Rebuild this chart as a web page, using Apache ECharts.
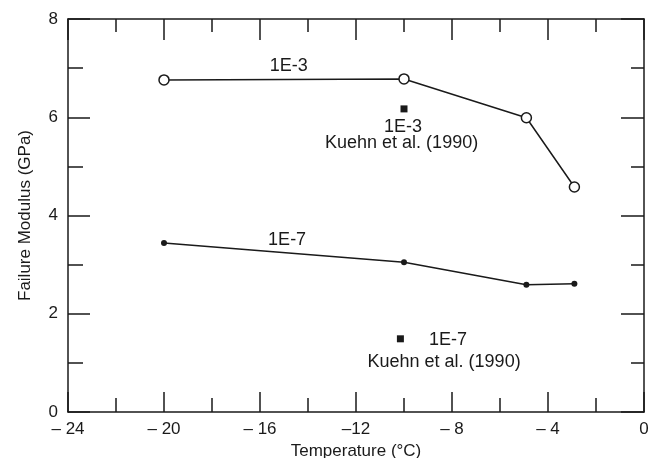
<!DOCTYPE html>
<html>
<head>
<meta charset="utf-8">
<script src="https://cdn.jsdelivr.net/npm/echarts@6/dist/echarts.min.js"></script>
<style>html,body{margin:0;padding:0;background:#fff;}#c{width:659px;height:458px;}</style>
</head>
<body>
<div id="c"></div>
<script>
// Data
const xTickLabels = ['\u2013 24', '\u2013 20', '\u2013 16', '\u201312', '\u2013 8', '\u2013 4', '0'];
const yTickLabels = ['0', '2', '4', '6', '8'];
const rate1E3 = [[-20, 6.76], [-10, 6.78], [-4.9, 5.99], [-2.9, 4.58]];
const rate1E7 = [[-20, 3.44], [-10, 3.05], [-4.9, 2.59], [-2.9, 2.61]];
const kuehn = [[-10.0, 6.17], [-10.15, 1.49]];
const annotations = [
  { text: '1E-3', x: -14.8, y: 7.05 },
  { text: '1E-7', x: -14.87, y: 3.50 },
  { text: '1E-3', x: -10.04, y: 5.80 },
  { text: 'Kuehn et al. (1990)', x: -10.1, y: 5.48 },
  { text: '1E-7', x: -8.17, y: 1.47 },
  { text: 'Kuehn et al. (1990)', x: -8.33, y: 1.02 }
];

const ink = '#1a1a1a';
const font = '"Liberation Sans", Arial, Helvetica, sans-serif';
const lineSt = { color: ink, width: 1.5 };

function xAxisDef(pos, showLabel, majorLen, minorLen) {
  return {
    type: 'value', position: pos, min: -24, max: 0, interval: 4,
    axisLine: { show: true, onZero: false, lineStyle: lineSt },
    axisTick: { show: true, inside: true, length: majorLen, lineStyle: lineSt },
    minorTick: { show: true, splitNumber: 2, length: minorLen, lineStyle: lineSt },
    splitLine: { show: false }, minorSplitLine: { show: false },
    axisLabel: {
      show: showLabel, margin: 9, fontSize: 17, color: ink, fontFamily: font,
      formatter: v => xTickLabels[Math.round((v + 24) / 4)]
    }
  };
}
function yAxisDef(pos, showLabel, majorLen, minorLen) {
  return {
    type: 'value', position: pos, min: 0, max: 8, interval: 2,
    axisLine: { show: true, onZero: false, lineStyle: lineSt },
    axisTick: { show: true, inside: true, length: majorLen, lineStyle: lineSt },
    minorTick: { show: true, splitNumber: 2, length: minorLen, lineStyle: lineSt },
    splitLine: { show: false }, minorSplitLine: { show: false },
    axisLabel: {
      show: showLabel, margin: 10, fontSize: 17, color: ink, fontFamily: font,
      formatter: v => yTickLabels[Math.round(v / 2)]
    }
  };
}

const xb = xAxisDef('bottom', true, 20, 14);
xb.name = 'Temperature (\u00B0C)';
xb.nameLocation = 'middle';
xb.nameGap = 27;
xb.nameTextStyle = { fontSize: 17, color: ink, fontFamily: font };
const yl = yAxisDef('left', true, 22, 15);
yl.name = 'Failure Modulus (GPa)';
yl.nameLocation = 'middle';
yl.nameGap = 34;
yl.nameTextStyle = { fontSize: 17, color: ink, fontFamily: font };

const chart = echarts.init(document.getElementById('c'));
chart.setOption({
  animation: false,
  backgroundColor: '#fff',
  grid: { left: 68, right: 15, top: 19, bottom: 46, containLabel: false, outerBoundsMode: 'none' },
  xAxis: [xb, xAxisDef('top', false, 21, 13)],
  yAxis: [yl, yAxisDef('right', false, 23, 13)],
  series: [
    {
      name: '1E-3', type: 'line', data: rate1E3,
      symbol: 'circle', symbolSize: 10, showAllSymbol: true,
      lineStyle: lineSt,
      itemStyle: { color: '#fff', borderColor: ink, borderWidth: 1.5, opacity: 1 },
      z: 3
    },
    {
      name: '1E-7', type: 'line', data: rate1E7,
      symbol: 'circle', symbolSize: 6, showAllSymbol: true,
      lineStyle: lineSt,
      itemStyle: { color: ink, opacity: 1 },
      z: 3
    },
    {
      name: 'Kuehn et al. (1990)', type: 'scatter', data: kuehn,
      symbol: 'rect', symbolSize: 7,
      itemStyle: { color: ink, opacity: 1 },
      z: 4
    },
    {
      name: 'annotations', type: 'scatter', symbolSize: 1, silent: true,
      data: annotations.map(a => ({ name: a.text, value: [a.x, a.y] })),
      itemStyle: { color: 'rgba(0,0,0,0)', opacity: 1 },
      label: {
        show: true, position: 'inside', formatter: p => p.name,
        fontSize: 18, color: ink, fontFamily: font, opacity: 1
      },
      z: 5
    }
  ]
});
</script>
</body>
</html>
